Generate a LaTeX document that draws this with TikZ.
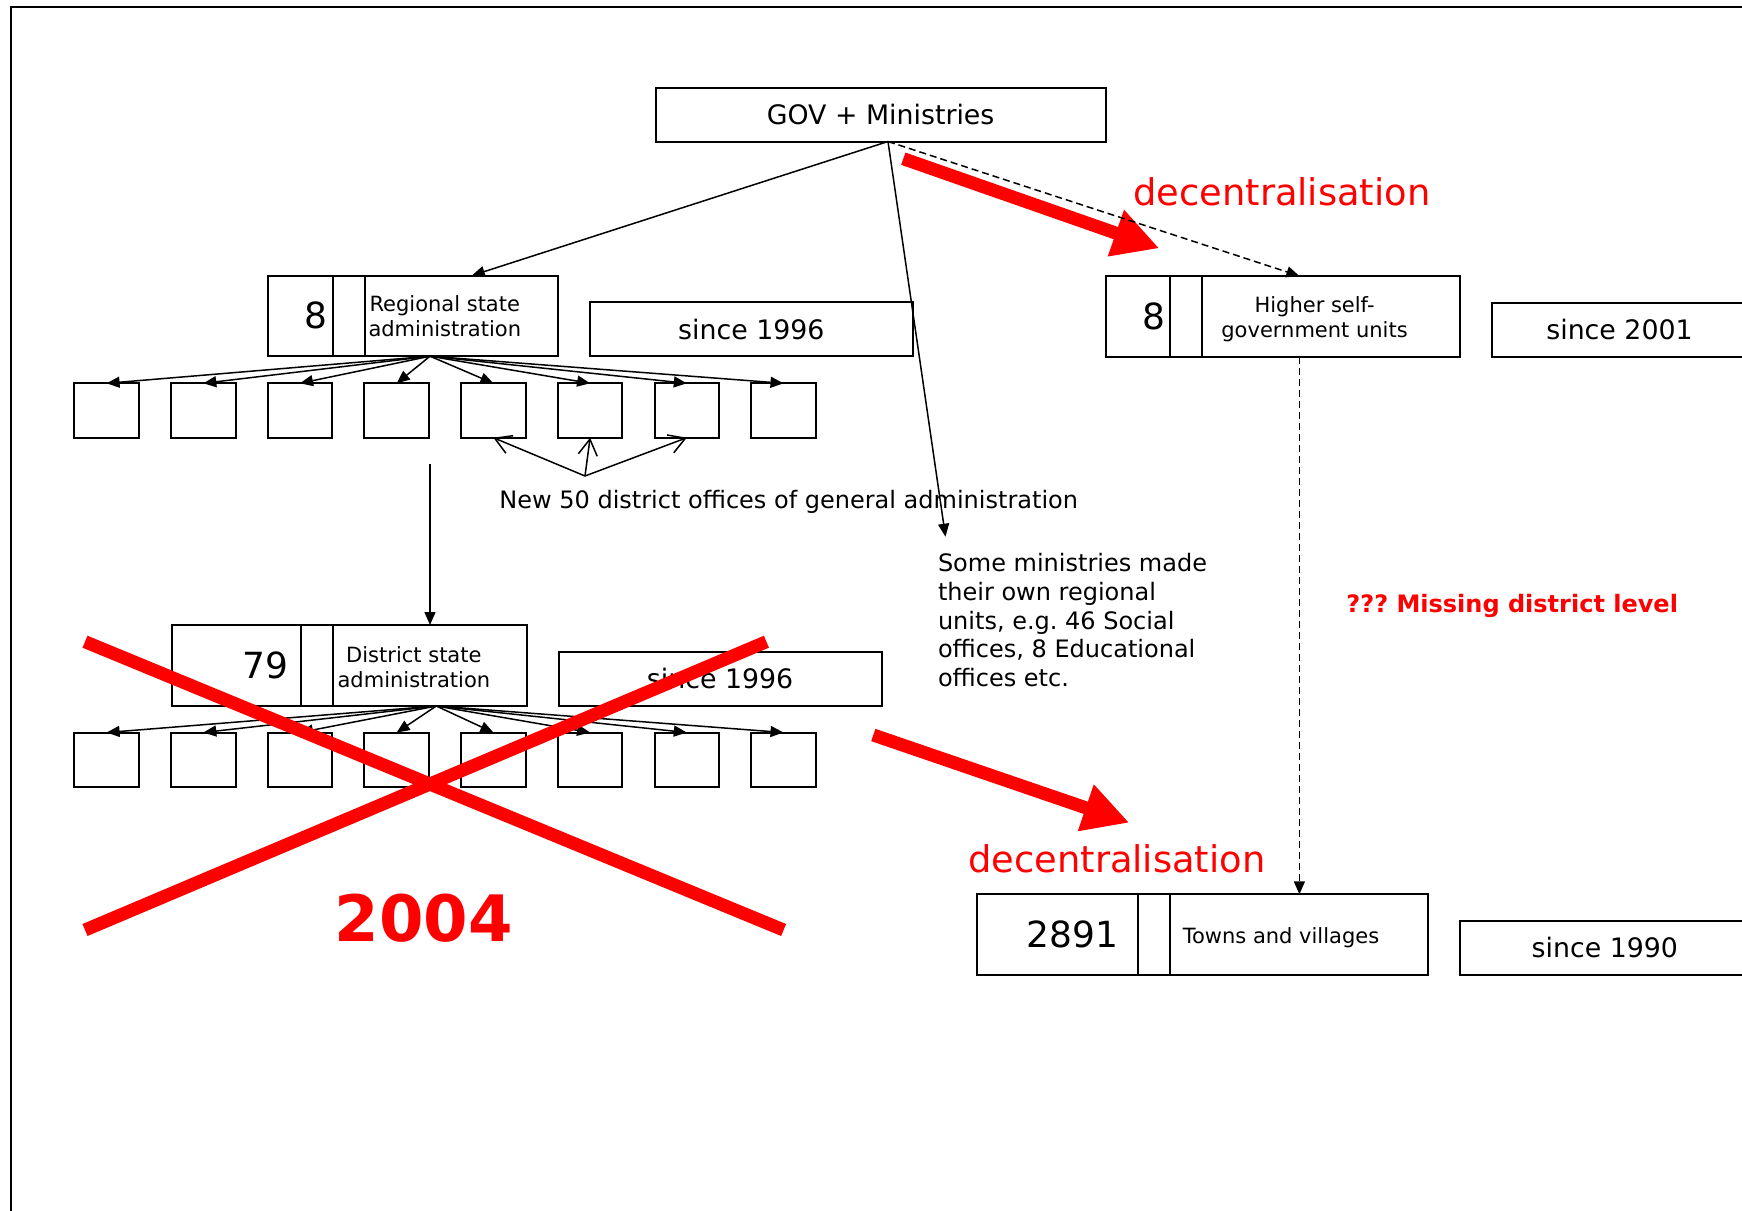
\documentclass[tikz,border=0pt]{standalone}
\usepackage{fontspec}
\setmainfont{DejaVu Sans}
\usetikzlibrary{arrows.meta,positioning}
\frenchspacing

\tikzstyle{govbox} = [rectangle, draw=black, line width=1pt, outer sep=0pt, minimum width=225pt, minimum height=27pt, font=\fontsize{13.4}{16}\selectfont]
\tikzstyle{sincebox} = [rectangle, draw=black, line width=1pt, outer sep=0pt, minimum height=27pt, font=\fontsize{13.4}{16}\selectfont]
\tikzstyle{numcell} = [rectangle, draw=black, line width=1pt, outer sep=0pt, inner ysep=0pt, minimum height=40.25pt, align=right, font=\fontsize{18}{20}\selectfont]
\tikzstyle{gapcell} = [rectangle, draw=black, line width=1pt, outer sep=0pt, inner sep=0pt, minimum width=16.2pt, minimum height=40.25pt]
\tikzstyle{labelcell} = [rectangle, draw=black, line width=1pt, outer sep=0pt, inner sep=0pt, minimum height=40.25pt]
\tikzstyle{celltext} = [anchor=west, inner sep=0pt, align=center, font=\fontsize{10.5}{12.5}\selectfont]
\tikzstyle{office} = [rectangle, draw=black, line width=1pt, outer sep=0pt, inner sep=0pt, minimum width=32.25pt, minimum height=27.2pt]
\tikzstyle{arrow} = [line width=0.75pt, ->, >={Triangle[length=6.5pt,width=5.5pt]}]
\tikzstyle{dashedarrow} = [line width=0.75pt, dash pattern=on 3.5pt off 2pt, ->, >={Triangle[length=6.5pt,width=5.5pt]}]
\tikzstyle{openarrow} = [line width=0.75pt, ->, >={Straight Barb[length=8pt,width=9.5pt]}]
\tikzstyle{redarrow} = [draw=red, line width=6.5pt, -{Triangle[length=23pt,width=23pt]}]
\tikzstyle{redcross} = [draw=red, line width=6.5pt]
\tikzstyle{redlabel} = [red, inner sep=0pt, anchor=base west, font=\fontsize{18.4}{22}\selectfont]
\tikzstyle{note} = [inner sep=0pt, font=\fontsize{12}{14.35}\selectfont]

\begin{document}
\begin{tikzpicture}[x=0.5pt, y=-0.5pt, node distance=48.35pt]
    \useasboundingbox (0,0) rectangle (1742,1211);
    \draw [line width=1pt] (11,1211) -- (11,7) -- (1742,7);

    % decentralisation towards the self-government
    \coordinate (dec1a) at (903.3,158.7);
    \coordinate (dec1b) at (1159.3,248.3);
    \draw [redarrow] (dec1a) -- (dec1b);
    \node (dec1) [redlabel] at (1133,205) {decentralisation};

    \node (gov) [govbox] at (880.6,114.5) {GOV + Ministries};
    \coordinate (govout) at ([xshift=3.7pt]gov.south);

    % regional state administration
    \node (regnum) [numcell, anchor=north west, text width=27.3pt, inner xsep=2.5pt] at (268,275.6) {8};
    \node (reggap) [gapcell, right=0pt of regnum] {};
    \node (reg) [labelcell, right=0pt of reggap, minimum width=96.4pt] {};
    \node (regtxt) [celltext] at ([xshift=1.55pt]reg.west) {Regional state\\administration};
    \node (regsince) [sincebox, anchor=south west, minimum width=161.5pt] at ([xshift=16pt]reg.south east) {since 1996};

    \node (reg1) [office] at (106.6,410.5) {};
    \node (reg2) [office, right of=reg1] {};
    \node (reg3) [office, right of=reg2] {};
    \node (reg4) [office, right of=reg3] {};
    \node (reg5) [office, right of=reg4] {};
    \node (reg6) [office, right of=reg5] {};
    \node (reg7) [office, right of=reg6] {};
    \node (reg8) [office, right of=reg7] {};

    \coordinate (regfan) at (430,356.2);
    \draw [arrow] (regfan) -- (reg1.north);
    \draw [arrow] (regfan) -- (reg2.north);
    \draw [arrow] (regfan) -- (reg3.north);
    \draw [arrow] (regfan) -- (reg4.north);
    \draw [arrow] (regfan) -- (reg5.north);
    \draw [arrow] (regfan) -- (reg6.north);
    \draw [arrow] (regfan) -- (reg7.north);
    \draw [arrow] (regfan) -- (reg8.north);

    \draw [arrow] (govout) -- ([xshift=5.2pt]reg.north);

    % new district offices
    \coordinate (newapex) at (585,476);
    \draw [openarrow] (newapex) -- (reg5.south);
    \draw [openarrow] (newapex) -- (reg6.south);
    \draw [openarrow] (newapex) -- (reg7.south);
    \node (newtxt) [note, anchor=base west] at (499,508) {New 50 district offices of general administration};

    % district state administration
    \node (disnum) [numcell, anchor=north west, text width=51.6pt, inner xsep=6.4pt] at (172,625) {79};
    \node (disgap) [gapcell, right=0pt of disnum] {};
    \node (dis) [labelcell, right=0pt of disgap, minimum width=96.7pt] {};
    \node (distxt) [celltext] at ([xshift=2pt,yshift=-0.8pt]dis.west) {District state\\administration};
    \node (dissince) [sincebox, anchor=south west, minimum width=161.5pt] at ([xshift=16pt]dis.south east) {since 1996};

    \coordinate (regdown) at (430,464);
    \draw [arrow] (regdown) -- (regdown |- dis.north);

    \node (dis1) [office] at (106.6,759.7) {};
    \node (dis2) [office, right of=dis1] {};
    \node (dis3) [office, right of=dis2] {};
    \node (dis4) [office, right of=dis3] {};
    \node (dis5) [office, right of=dis4] {};
    \node (dis6) [office, right of=dis5] {};
    \node (dis7) [office, right of=dis6] {};
    \node (dis8) [office, right of=dis7] {};

    \coordinate (disfan) at (436.3,706);
    \draw [arrow] (disfan) -- (dis1.north);
    \draw [arrow] (disfan) -- (dis2.north);
    \draw [arrow] (disfan) -- (dis3.north);
    \draw [arrow] (disfan) -- (dis4.north);
    \draw [arrow] (disfan) -- (dis5.north);
    \draw [arrow] (disfan) -- (dis6.north);
    \draw [arrow] (disfan) -- (dis7.north);
    \draw [arrow] (disfan) -- (dis8.north);

    % ministries
    \node (mins) [note, anchor=north west, align=left] at (937.6,553) {Some ministries made\\their own regional\\units, e.g. 46 Social\\offices, 8 Educational\\offices etc.};
    \coordinate (minsin) at (945.5,536.7);
    \draw [arrow] (govout) -- (minsin);

    % self-government
    \node (hsgnum) [numcell, anchor=north west, text width=27.15pt, inner xsep=2.5pt] at (1105.7,276) {8};
    \node (hsggap) [gapcell, right=0pt of hsgnum] {};
    \node (hsg) [labelcell, right=0pt of hsggap, minimum width=128.8pt] {};
    \node (hsgtxt) [celltext] at ([xshift=9.3pt,yshift=-1.4pt]hsg.west) {Higher self-\\government units};
    \node (hsgsince) [sincebox, anchor=south west, minimum width=127.5pt] at ([xshift=16pt]hsg.south east) {since 2001};

    \node (townnum) [numcell, anchor=north west, text width=60.6pt, inner xsep=10pt] at (976.8,894.3) {2891};
    \node (towngap) [gapcell, right=0pt of townnum] {};
    \node (town) [labelcell, right=0pt of towngap, minimum width=129pt] {};
    \node (towntxt) [celltext] at ([xshift=6pt,yshift=-1.6pt]town.west) {Towns and villages};
    \node (townsince) [sincebox, anchor=south west, minimum width=144.5pt] at ([xshift=16pt]town.south east) {since 1990};

    \draw [dashedarrow] (govout) -- (town.north |- hsg.north);
    \draw [dashedarrow] (town.north |- hsg.south) -- (town.north);

    \node (missing) [note, anchor=west, red, font=\fontsize{12}{14}\selectfont\bfseries] at (1346,606.4) {??? Missing district level};

    % abolished in 2004
    \coordinate (x1a) at (85,641.7);
    \coordinate (x1b) at (783.6,930);
    \coordinate (x2a) at (85,930);
    \coordinate (x2b) at (766.4,641.7);
    \draw [redcross] (x1a) -- (x1b);
    \draw [redcross] (x2a) -- (x2b);
    \node (abol) [red, inner sep=0pt, anchor=base, font=\fontsize{32}{35}\selectfont\bfseries] at (423.6,941.7) {2004};

    \coordinate (dec2a) at (873.3,735);
    \coordinate (dec2b) at (1129.3,822.7);
    \draw [redarrow] (dec2a) -- (dec2b);
    \node (dec2) [redlabel] at (968,872) {decentralisation};

\end{tikzpicture}
\end{document}
